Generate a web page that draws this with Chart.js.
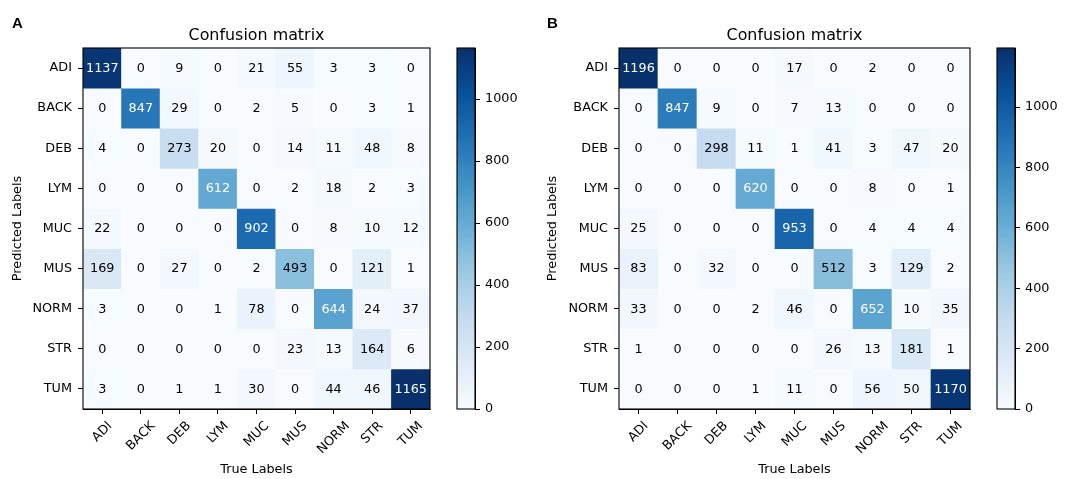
<!DOCTYPE html>
<html>
<head>
<meta charset="utf-8">
<script src="https://cdn.jsdelivr.net/npm/chart.js@4.4.1/dist/chart.umd.min.js"></script>
<style>
  html, body { margin: 0; padding: 0; background: #ffffff; }
  #wrap { position: relative; width: 1070px; height: 479px; background: #ffffff; overflow: hidden; }
  canvas { position: absolute; top: 0; }
</style>
</head>
<body>
<div id="wrap">
  <canvas id="matA" width="445" height="479" style="left:0px"></canvas>
  <canvas id="cbA" width="90" height="479" style="left:445px"></canvas>
  <canvas id="matB" width="445" height="479" style="left:535px"></canvas>
  <canvas id="cbB" width="90" height="479" style="left:980px"></canvas>
</div>
<script>
// ---------------- data ----------------
const categories = ['ADI', 'BACK', 'DEB', 'LYM', 'MUC', 'MUS', 'NORM', 'STR', 'TUM'];

// rows = predicted label, columns = true label
const matrixA = [
  [1137, 0, 9, 0, 21, 55, 3, 3, 0],
  [0, 847, 29, 0, 2, 5, 0, 3, 1],
  [4, 0, 273, 20, 0, 14, 11, 48, 8],
  [0, 0, 0, 612, 0, 2, 18, 2, 3],
  [22, 0, 0, 0, 902, 0, 8, 10, 12],
  [169, 0, 27, 0, 2, 493, 0, 121, 1],
  [3, 0, 0, 1, 78, 0, 644, 24, 37],
  [0, 0, 0, 0, 0, 23, 13, 164, 6],
  [3, 0, 1, 1, 30, 0, 44, 46, 1165]
];

const matrixB = [
  [1196, 0, 0, 0, 17, 0, 2, 0, 0],
  [0, 847, 9, 0, 7, 13, 0, 0, 0],
  [0, 0, 298, 11, 1, 41, 3, 47, 20],
  [0, 0, 0, 620, 0, 0, 8, 0, 1],
  [25, 0, 0, 0, 953, 0, 4, 4, 4],
  [83, 0, 32, 0, 0, 512, 3, 129, 2],
  [33, 0, 0, 2, 46, 0, 652, 10, 35],
  [1, 0, 0, 0, 0, 26, 13, 181, 1],
  [0, 0, 0, 1, 11, 0, 56, 50, 1170]
];

const colorbarTicks = [0, 200, 400, 600, 800, 1000];
const titleText = 'Confusion matrix';
const xTitle = 'True Labels';
const yTitle = 'Predicted Labels';

// ---------------- styling ----------------
const FONT = '"DejaVu Sans", Verdana, sans-serif';
const FS = 12.8;
const TITLE_FS = 15.9;
const TICK_LEN = 5;
const blues = ['#f7fbff', '#deebf7', '#c6dbef', '#9ecae1', '#6baed6', '#4292c6', '#2171b5', '#08519c', '#08306b'];

function hexToRgb(h) {
  return [parseInt(h.slice(1, 3), 16), parseInt(h.slice(3, 5), 16), parseInt(h.slice(5, 7), 16)];
}
function cmap(t) {
  t = Math.max(0, Math.min(1, t));
  const s = t * (blues.length - 1);
  const i = Math.min(Math.floor(s), blues.length - 2);
  const f = s - i;
  const a = hexToRgb(blues[i]), b = hexToRgb(blues[i + 1]);
  const c = a.map((v, k) => Math.round(v + (b[k] - v) * f));
  return `rgb(${c[0]},${c[1]},${c[2]})`;
}

const matrixPlugin = {
  id: 'matrixDecor',
  afterDatasetsDraw(chart, args, opts) {
    const { ctx, chartArea: a } = chart;
    ctx.save();
    // cell numbers
    ctx.font = `${FS}px ${FONT}`;
    ctx.textAlign = 'center';
    ctx.textBaseline = 'middle';
    chart.data.datasets.forEach((ds, i) => {
      const meta = chart.getDatasetMeta(i);
      meta.data.forEach((el, j) => {
        const v = ds.values[j];
        ctx.fillStyle = v > opts.vmax / 2 ? '#ffffff' : '#000000';
        ctx.fillText(String(v), el.x, (el.y + el.base) / 2 + 0.5);
      });
    });
    // frame
    ctx.strokeStyle = '#000000';
    ctx.lineWidth = 1.1;
    ctx.strokeRect(a.left, a.top, a.right - a.left, a.bottom - a.top);
    // rotated x tick labels (bbox centred on tick, like matplotlib)
    const xs = chart.scales.x;
    ctx.fillStyle = '#000000';
    ctx.font = `${FS}px ${FONT}`;
    chart.data.labels.forEach((label, k) => {
      const x = xs.getPixelForTick(k);
      const w = ctx.measureText(label).width;
      const h = FS * 1.17;
      const half = (w + h) * Math.SQRT1_2 / 2;
      const cy = a.bottom + TICK_LEN + 4.7 + half;
      ctx.save();
      ctx.translate(x, cy);
      ctx.rotate(-Math.PI / 4);
      ctx.textAlign = 'center';
      ctx.textBaseline = 'middle';
      ctx.fillText(label, 0, 0);
      ctx.restore();
    });
    // title
    ctx.font = `${TITLE_FS}px ${FONT}`;
    ctx.textAlign = 'center';
    ctx.textBaseline = 'alphabetic';
    ctx.fillText(titleText, (a.left + a.right) / 2, 40);
    // panel letter
    ctx.font = `bold 15px "Liberation Sans", Arial, sans-serif`;
    ctx.textAlign = 'left';
    ctx.fillText(opts.letter, 12, 28);
    ctx.restore();
  }
};

function makeMatrix(id, matrix, letter, yAxisWidth, padRight) {
  const vmax = Math.max(...matrix.flat());
  const datasets = matrix.map((row, i) => ({
    data: row.map(() => [i - 0.5, i + 0.5]),
    values: row,
    backgroundColor: row.map(v => cmap(v / vmax)),
    borderWidth: 0,
    barPercentage: 1,
    categoryPercentage: 1,
    grouped: false
  }));
  return new Chart(document.getElementById(id), {
    type: 'bar',
    data: { labels: categories, datasets },
    options: {
      responsive: false,
      animation: false,
      events: [],
      layout: { padding: { left: 0, top: 48, right: padRight, bottom: 0 } },
      plugins: {
        legend: { display: false },
        tooltip: { enabled: false },
        title: { display: false },
        matrixDecor: { vmax, letter }
      },
      scales: {
        x: {
          type: 'category',
          offset: true,
          grid: { display: true, offset: false, drawOnChartArea: false, drawTicks: true, tickLength: TICK_LEN, color: '#000000', lineWidth: 1 },
          border: { display: true, color: '#000000' },
          ticks: { display: false },
          title: { display: true, text: xTitle, color: '#000000', font: { family: FONT, size: FS }, padding: { top: 0, bottom: 2 } },
          afterFit: (s) => { s.height = 70; }
        },
        y: {
          type: 'linear',
          reverse: true,
          min: -0.5,
          max: 8.5,
          afterBuildTicks: (s) => { s.ticks = categories.map((c, i) => ({ value: i })); },
          grid: { display: true, drawOnChartArea: false, drawTicks: true, tickLength: TICK_LEN, color: '#000000', lineWidth: 1 },
          border: { display: true, color: '#000000' },
          ticks: { color: '#000000', font: { family: FONT, size: FS }, padding: 6, autoSkip: false, callback: (v) => categories[v] },
          title: { display: true, text: yTitle, color: '#000000', font: { family: FONT, size: FS }, padding: { top: 10, bottom: 0 } },
          afterFit: (s) => { s.width = yAxisWidth; }
        }
      }
    },
    plugins: [matrixPlugin]
  });
}

const cbPlugin = {
  id: 'cbFrame',
  afterDatasetsDraw(chart) {
    const { ctx, chartArea: a } = chart;
    ctx.save();
    ctx.strokeStyle = '#000000';
    ctx.lineWidth = 1.1;
    ctx.strokeRect(a.left, a.top, a.right - a.left, a.bottom - a.top);
    ctx.restore();
  }
};

function makeColorbar(id, matrix, padLeft, axisWidth) {
  const vmax = Math.max(...matrix.flat());
  return new Chart(document.getElementById(id), {
    type: 'bar',
    data: {
      labels: [''],
      datasets: [{
        data: [[0, vmax]],
        backgroundColor: (c) => {
          const ch = c.chart;
          const ys = ch.scales && ch.scales.y;
          if (!ys || !ch.chartArea) return blues[4];
          const g = ch.ctx.createLinearGradient(0, ys.getPixelForValue(0), 0, ys.getPixelForValue(vmax));
          blues.forEach((col, i) => g.addColorStop(i / (blues.length - 1), col));
          return g;
        },
        borderWidth: 0,
        barPercentage: 1,
        categoryPercentage: 1
      }]
    },
    options: {
      responsive: false,
      animation: false,
      events: [],
      layout: { padding: { left: padLeft, top: 48, right: 0, bottom: 70 } },
      plugins: { legend: { display: false }, tooltip: { enabled: false } },
      scales: {
        x: { display: false, offset: true },
        y: {
          position: 'right',
          min: 0,
          max: vmax,
          afterBuildTicks: (s) => { s.ticks = colorbarTicks.map(v => ({ value: v })); },
          grid: { display: true, drawOnChartArea: false, drawTicks: true, tickLength: TICK_LEN, color: '#000000' },
          border: { display: true, color: '#000000' },
          ticks: { color: '#000000', font: { family: FONT, size: FS }, padding: 5, callback: (v) => String(v) },
          afterFit: (s) => { s.width = axisWidth; }
        }
      }
    },
    plugins: [cbPlugin]
  });
}

makeMatrix('matA', matrixA, 'A', 83, 15);
makeColorbar('cbA', matrixA, 12, 60);
makeMatrix('matB', matrixB, 'B', 84, 10);
makeColorbar('cbB', matrixB, 17, 55);
</script>
</body>
</html>
